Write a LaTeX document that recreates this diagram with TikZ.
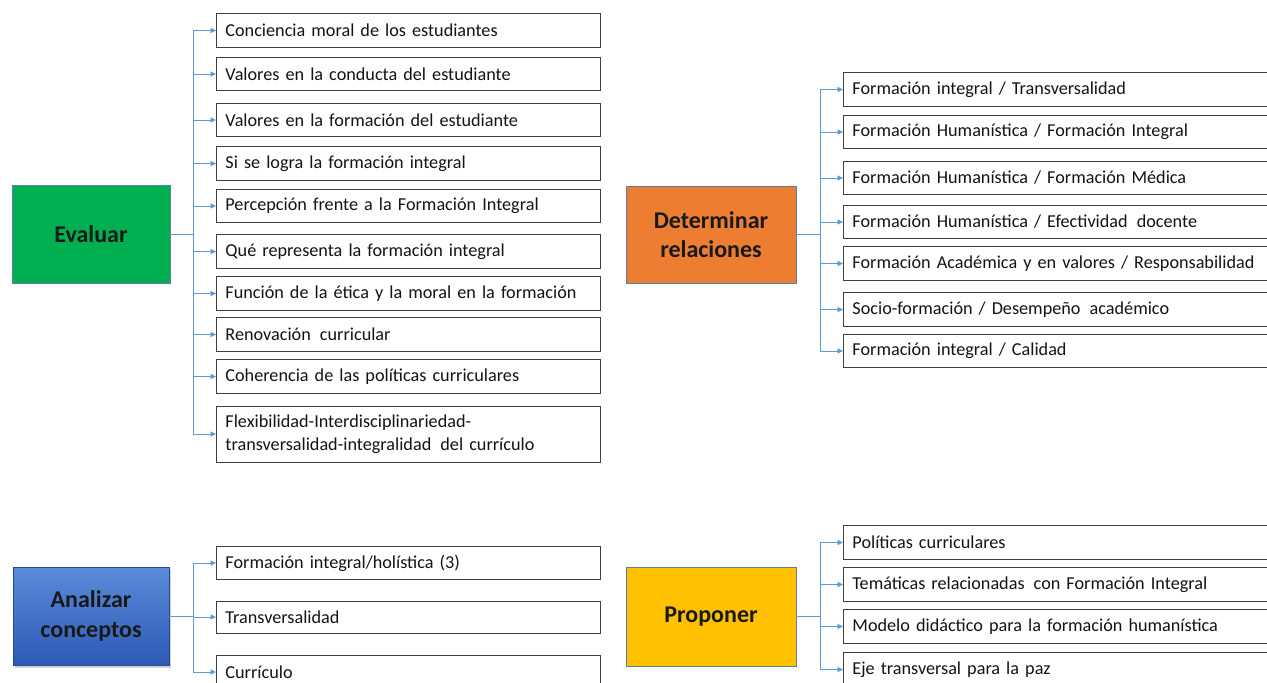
\documentclass[tikz,border=0pt]{standalone}
\usepackage{fontspec}
\setmainfont{Carlito}
\usetikzlibrary{arrows.meta,shadows,calc}
\definecolor{linkblue}{HTML}{5B9BD5}
\definecolor{boxline}{HTML}{3F3F3F}
\definecolor{headline}{HTML}{5E7E9E}
\definecolor{evalgreen}{HTML}{00B050}
\definecolor{detorange}{HTML}{ED7D31}
\definecolor{propyellow}{HTML}{FFC000}
\definecolor{anatop}{HTML}{5B8BDA}
\definecolor{anabottom}{HTML}{2D5AB6}
\begin{document}
\begin{tikzpicture}[x=1pt,y=-1pt,
  leaf/.style={draw=boxline, line width=0.9pt, fill=white, anchor=west,
    minimum width=384pt, text width=366pt, inner xsep=9pt, inner ysep=0pt,
    minimum height=33.5pt, align=left, text=black!92,
    font=\fontsize{18.2}{23.5}\selectfont},
  wideleaf/.style={leaf, minimum width=440pt, text width=422pt},
  head/.style={draw=headline, line width=0.8pt, align=center, text=black!90,
    font=\bfseries\fontsize{24}{29.5}\selectfont},
  link/.style={draw=linkblue, line width=0.9pt},
  arr/.style={link, -{Triangle[length=5.5pt,width=5pt]}}
]
\useasboundingbox (0,0) rectangle (1267,683);
\clip (0,0) rectangle (1267,683);
\fill[white] (0,0) rectangle (1267,683);

% ---------- Evaluar ----------
\node[head, fill=evalgreen, minimum width=158pt, minimum height=98pt] (ev) at (91,234) {Evaluar};
\node[leaf] (e1) at (216,30.5) {Conciencia moral de los estudiantes};
\node[leaf] (e2) at (216,74) {Valores en la conducta del estudiante};
\node[leaf] (e3) at (216,120) {Valores en la formación del estudiante};
\node[leaf] (e4) at (216,163.5) {Si se logra la formación integral};
\node[leaf] (e5) at (216,206) {Percepción frente a la Formación Integral};
\node[leaf] (e6) at (216,251.5) {Qué representa la formación integral};
\node[leaf] (e7) at (216,293.5) {Función de la ética y la moral en la formación};
\node[leaf] (e8) at (216,334.5) {Renovación\, curricular};
\node[leaf] (e9) at (216,376.5) {Coherencia de las políticas curriculares};
\node[leaf, minimum height=56pt] (e10) at (216,434) {Flexibilidad-Interdisciplinariedad-\\transversalidad-integralidad\, del currículo};
\coordinate (evs) at (193,234);
\draw[link] (ev.east) -- (evs);
\draw[link] (evs |- e1.west) -- (evs |- e10.west);
\foreach \i in {1,...,10} \draw[arr] (evs |- e\i.west) -- (e\i.west);

% ---------- Determinar relaciones ----------
\node[head, fill=detorange, minimum width=170pt, minimum height=97pt] (dr) at (711,234.5) {Determinar\\relaciones};
\node[wideleaf] (d1) at (843,89.5) {Formación integral / Transversalidad};
\node[wideleaf] (d2) at (843,132) {Formación Humanística / Formación Integral};
\node[wideleaf] (d3) at (843,178) {Formación Humanística / Formación Médica};
\node[wideleaf] (d4) at (843,222) {Formación Humanística / Efectividad\, docente};
\node[wideleaf] (d5) at (843,263.5) {Formación Académica y en valores / Responsabilidad};
\node[wideleaf] (d6) at (843,309.5) {Socio-formación / Desempeño\, académico};
\node[wideleaf] (d7) at (843,351) {Formación integral / Calidad};
\coordinate (drs) at (820,234.5);
\draw[link] (dr.east) -- (drs);
\draw[link] (drs |- d1.west) -- (drs |- d7.west);
\foreach \i in {1,...,7} \draw[arr] (drs |- d\i.west) -- (d\i.west);

% ---------- Analizar conceptos ----------
\node[head, top color=anatop, bottom color=anabottom, draw=anabottom!80!black,
  drop shadow={shadow xshift=2pt, shadow yshift=-2.5pt, opacity=0.35},
  minimum width=156pt, minimum height=98pt] (ac) at (91,616) {Analizar\\conceptos};
\node[leaf] (a1) at (216,563) {Formación integral/holística (3)};
\node[leaf, minimum height=32pt] (a2) at (216,617) {Transversalidad};
\node[leaf] (a3) at (216,672) {Currículo};
\coordinate (acs) at (193,616);
\draw[link] (ac.east) -- (acs);
\draw[link] (acs |- a1.west) -- (acs |- a3.west);
\foreach \i in {1,...,3} \draw[arr] (acs |- a\i.west) -- (a\i.west);

% ---------- Proponer ----------
\node[head, fill=propyellow, minimum width=170pt, minimum height=99pt] (pr) at (711,616.5) {Proponer};
\node[wideleaf] (p1) at (843,542.5) {Políticas curriculares};
\node[wideleaf] (p2) at (843,584.5) {Temáticas relacionadas\, con Formación Integral};
\node[wideleaf] (p3) at (843,626.5) {Modelo didáctico para la formación humanística};
\node[wideleaf] (p4) at (843,669.5) {Eje transversal para la paz};
\coordinate (prs) at (820,616.5);
\draw[link] (pr.east) -- (prs);
\draw[link] (prs |- p1.west) -- (prs |- p4.west);
\foreach \i in {1,...,4} \draw[arr] (prs |- p\i.west) -- (p\i.west);
\end{tikzpicture}
\end{document}
